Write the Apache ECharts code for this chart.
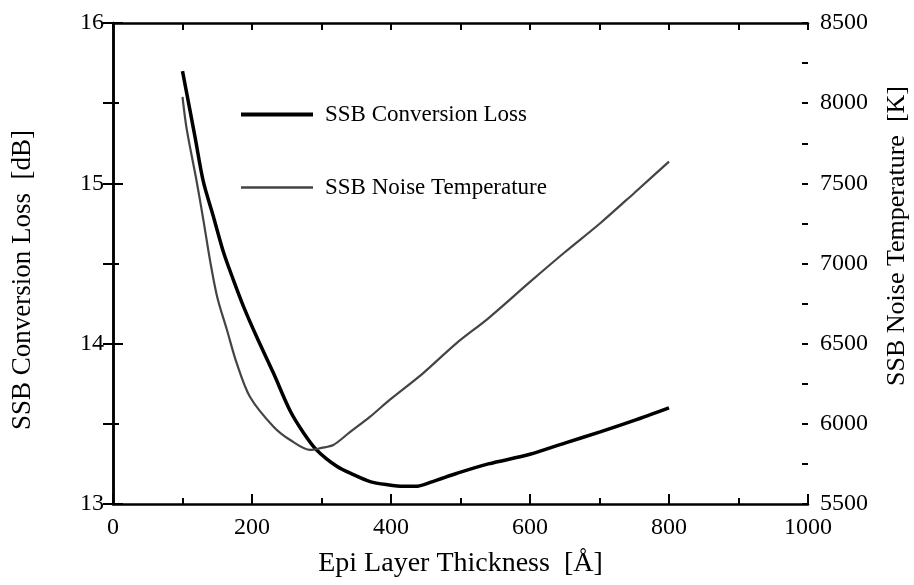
<!DOCTYPE html>
<html><head><meta charset="utf-8">
<script src="https://cdn.jsdelivr.net/npm/echarts@6/dist/echarts.min.js"></script>
<style>html,body{margin:0;padding:0;background:#fff}#c{width:914px;height:585px}</style>
</head><body><div id="c"></div>
<script>
const lossX = [100,118,130,144,159,173,188,207,231,255,274,293,322,345,370,395,418,435,460,494,540,600,650,701,749,800];
const lossY = [15.70,15.29,15.01,14.80,14.57,14.40,14.23,14.04,13.815,13.58,13.445,13.337,13.235,13.185,13.14,13.12,13.11,13.11,13.14,13.19,13.25,13.31,13.38,13.45,13.52,13.60];
const noiseX = [100,106,120,130,140,150,164,178,197,231,255,284,300,317,340,370,398,446,494,540,600,650,701,750,800];
const noiseY = [8040,7840,7521,7272,7010,6790,6585,6378,6169,5982,5899,5837,5850,5868,5945,6045,6149,6315,6502,6658,6885,7070,7251,7440,7635];
const seriesNames = ['SSB Conversion Loss','SSB Noise Temperature'];
const xTitle = 'Epi Layer Thickness  [Å]';
const yLeftTitle = 'SSB Conversion Loss  [dB]';
const yRightTitle = 'SSB Noise Temperature  [K]';

const font = 'Liberation Serif';
const chart = echarts.init(document.getElementById('c'));
const axisLine = {show:true, lineStyle:{color:'#000', width:2.5}};
const tick = (len)=>({show:true, inside:true, length:len, lineStyle:{color:'#000', width:2}});
const lbl = {fontFamily:font, fontSize:24, color:'#000', formatter:(v)=>String(v)};
const minorAxis = (extra)=>Object.assign({type:'value', axisLine:{show:false}, axisTick:tick(6), axisLabel:{show:false}, splitLine:{show:false}}, extra);
const legendBase = {orient:'vertical', left:236, itemWidth:72, icon:'rect',
  textStyle:{fontFamily:font, fontSize:23, color:'#000', padding:[0,0,0,7]}};
chart.setOption({
  animation:false,
  backgroundColor:'#fff',
  textStyle:{fontFamily:font, color:'#000'},
  grid:{left:113, right:106, top:23, bottom:81},
  legend:[
    Object.assign({}, legendBase, {top:98, itemHeight:4, data:[seriesNames[0]]}),
    Object.assign({}, legendBase, {top:171, itemHeight:2.5, data:[seriesNames[1]]})
  ],
  graphic:[
    {type:'text', x:23, y:280, rotation:Math.PI/2, style:{text:yLeftTitle, font:'27px "Liberation Serif"', fill:'#000', align:'center', verticalAlign:'middle'}},
    {type:'text', x:897, y:236, rotation:Math.PI/2, style:{text:yRightTitle, font:'26px "Liberation Serif"', fill:'#000', align:'center', verticalAlign:'middle'}}
  ],
  xAxis:[{
    type:'value', min:0, max:1000, interval:200, position:'bottom',
    axisLine:axisLine, axisTick:tick(10), splitLine:{show:false},
    axisLabel:Object.assign({margin:12}, lbl),
    name:xTitle, nameLocation:'middle', nameGap:46,
    nameTextStyle:{fontFamily:font, fontSize:28, color:'#000'}
  },{
    type:'value', min:0, max:1000, interval:100, position:'top',
    axisLine:axisLine, axisTick:tick(7), axisLabel:{show:false}, splitLine:{show:false}
  }, minorAxis({min:0, max:1000, interval:100, position:'bottom'})],
  yAxis:[{
    type:'value', min:13, max:16, interval:1, position:'left',
    axisLine:axisLine, axisTick:tick(10), splitLine:{show:false},
    axisLabel:Object.assign({margin:9}, lbl)
  },{
    type:'value', min:5500, max:8500, interval:500, position:'right',
    axisLine:axisLine, axisTick:tick(10), splitLine:{show:false},
    axisLabel:Object.assign({margin:12}, lbl)
  }, minorAxis({min:13, max:16, interval:0.5, position:'left'}),
     minorAxis({min:5500, max:8500, interval:250, position:'right'})],
  series:[{
    name:seriesNames[0], type:'line', xAxisIndex:0, yAxisIndex:0,
    data:lossX.map((x,i)=>[x,lossY[i]]), smooth:0.3, symbol:'none',
    lineStyle:{color:'#000', width:3.5}, itemStyle:{color:'#000'}
  },{
    name:seriesNames[1], type:'line', xAxisIndex:0, yAxisIndex:1,
    data:noiseX.map((x,i)=>[x,noiseY[i]]), smooth:0.3, symbol:'none',
    lineStyle:{color:'#444', width:2.2}, itemStyle:{color:'#444'}
  }]
});
</script></body></html>
